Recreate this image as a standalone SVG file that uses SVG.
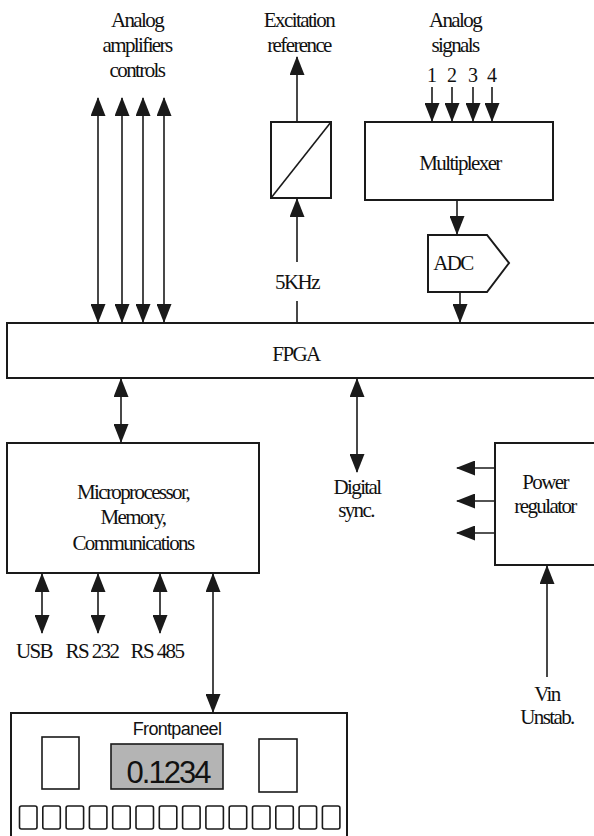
<svg xmlns="http://www.w3.org/2000/svg" width="594" height="836" viewBox="0 0 594 836">
<style>
.box{fill:#fff;stroke:#1a1a1a;stroke-width:2}
.ln{stroke:#1a1a1a;stroke-width:1.6;fill:none}
.ar{stroke:#1a1a1a;stroke-width:1.6;fill:none;marker-end:url(#ah)}
.da{stroke:#1a1a1a;stroke-width:1.6;fill:none;marker-start:url(#ah);marker-end:url(#ah)}
.t{font-family:"Liberation Serif","Times New Roman",serif;font-size:21px;letter-spacing:-1.6px;text-anchor:middle;fill:#111}
.n{font-family:"Liberation Serif","Times New Roman",serif;font-size:20px;text-anchor:middle;fill:#111}
.s{font-family:"Liberation Sans",Arial,sans-serif;text-anchor:middle;fill:#111}
.key{fill:#fff;stroke:#1a1a1a;stroke-width:1.6}
</style>
<defs>
<marker id="ah" viewBox="0 0 19 15" refX="18" refY="7.5" markerWidth="19" markerHeight="15" markerUnits="userSpaceOnUse" orient="auto-start-reverse">
<path d="M0,0 L19,7.5 L0,15 z" fill="#1a1a1a"/>
</marker>
</defs>
<rect width="594" height="836" fill="#fff"/>

<g id="labels-top">
<text class="t" x="137" y="27">Analog</text>
<text class="t" x="137" y="52">amplifiers</text>
<text class="t" x="137" y="77">controls</text>
<text class="t" x="299" y="27">Excitation</text>
<text class="t" x="299" y="52">reference</text>
<text class="t" x="455" y="27">Analog</text>
<text class="t" x="455" y="52">signals</text>
<text class="n" x="432" y="82">1</text>
<text class="n" x="452" y="82">2</text>
<text class="n" x="473" y="82">3</text>
<text class="n" x="492" y="82">4</text>
</g>

<g id="converter">
<rect class="box" x="271" y="122" width="60" height="76"/>
<line class="ln" x1="271" y1="198" x2="331" y2="122"/>
</g>

<g id="multiplexer">
<rect class="box" x="365" y="122" width="188" height="78"/>
<text class="t" x="460" y="170">Multiplexer</text>
</g>

<g id="adc">
<polygon class="box" points="428,235 487,235 509,263 487,292 428,292"/>
<text class="t" x="453" y="270">ADC</text>
</g>

<g id="fpga">
<rect class="box" x="7" y="323" width="600" height="55"/>
<text class="t" x="296" y="361">FPGA</text>
</g>

<g id="micro">
<rect class="box" x="7" y="443" width="252" height="130"/>
<text class="t" x="133" y="499">Microprocessor,</text>
<text class="t" x="133" y="524">Memory,</text>
<text class="t" x="133" y="550">Communications</text>
</g>

<g id="power">
<rect class="box" x="495" y="443" width="110" height="122"/>
<text class="t" x="545" y="489">Power</text>
<text class="t" x="545" y="513">regulator</text>
</g>

<g id="frontpanel">
<rect class="box" x="11" y="713" width="336" height="130"/>
<text class="s" x="177" y="735" font-size="18" letter-spacing="-0.7">Frontpaneel</text>
<rect class="key" x="42" y="737" width="37" height="52"/>
<rect class="key" x="259" y="739" width="38" height="53"/>
<rect x="111" y="744" width="112" height="45" fill="#b4b4b4" stroke="#1a1a1a" stroke-width="1.6"/>
<text class="s" x="168" y="783" font-size="31" letter-spacing="-2">0.1234</text>
<g>
<rect class="key" x="19.5" y="806" width="17.5" height="23" rx="2"/>
<rect class="key" x="42.8" y="806" width="17.5" height="23" rx="2"/>
<rect class="key" x="66.1" y="806" width="17.5" height="23" rx="2"/>
<rect class="key" x="89.4" y="806" width="17.5" height="23" rx="2"/>
<rect class="key" x="112.7" y="806" width="17.5" height="23" rx="2"/>
<rect class="key" x="136" y="806" width="17.5" height="23" rx="2"/>
<rect class="key" x="159.3" y="806" width="17.5" height="23" rx="2"/>
<rect class="key" x="182.6" y="806" width="17.5" height="23" rx="2"/>
<rect class="key" x="205.9" y="806" width="17.5" height="23" rx="2"/>
<rect class="key" x="229.2" y="806" width="17.5" height="23" rx="2"/>
<rect class="key" x="252.5" y="806" width="17.5" height="23" rx="2"/>
<rect class="key" x="275.8" y="806" width="17.5" height="23" rx="2"/>
<rect class="key" x="299.1" y="806" width="17.5" height="23" rx="2"/>
<rect class="key" x="322.4" y="806" width="17.5" height="23" rx="2"/>
</g>
</g>

<g id="other-labels">
<text class="t" x="297" y="289">5KHz</text>
<text class="t" x="357" y="494">Digital</text>
<text class="t" x="356" y="517">sync.</text>
<text class="t" x="34" y="658">USB</text>
<text class="t" x="92" y="658">RS 232</text>
<text class="t" x="157" y="658">RS 485</text>
<text class="t" x="547" y="701">Vin</text>
<text class="t" x="547" y="724">Unstab.</text>
</g>

<g id="connectors">
<line class="da" x1="98" y1="322" x2="98" y2="98"/>
<line class="da" x1="122" y1="322" x2="122" y2="98"/>
<line class="da" x1="143" y1="322" x2="143" y2="98"/>
<line class="da" x1="164" y1="322" x2="164" y2="98"/>
<line class="ar" x1="297" y1="122" x2="297" y2="57"/>
<line class="ar" x1="297" y1="262" x2="297" y2="199"/>
<line class="ln" x1="297" y1="301" x2="297" y2="323"/>
<line class="ar" x1="432" y1="87" x2="432" y2="121"/>
<line class="ar" x1="452" y1="87" x2="452" y2="121"/>
<line class="ar" x1="473" y1="87" x2="473" y2="121"/>
<line class="ar" x1="492" y1="87" x2="492" y2="121"/>
<line class="ar" x1="457" y1="200" x2="457" y2="234"/>
<line class="ar" x1="460" y1="292" x2="460" y2="322"/>
<line class="da" x1="121" y1="379" x2="121" y2="442"/>
<line class="da" x1="357" y1="379" x2="357" y2="472"/>
<line class="da" x1="42" y1="574" x2="42" y2="633"/>
<line class="da" x1="98" y1="574" x2="98" y2="633"/>
<line class="da" x1="160" y1="574" x2="160" y2="633"/>
<line class="da" x1="213" y1="574" x2="213" y2="712"/>
<line class="ar" x1="495" y1="468" x2="457" y2="468"/>
<line class="ar" x1="495" y1="501" x2="457" y2="501"/>
<line class="ar" x1="495" y1="533" x2="457" y2="533"/>
<line class="ar" x1="547" y1="677" x2="547" y2="566"/>
</g>
</svg>
